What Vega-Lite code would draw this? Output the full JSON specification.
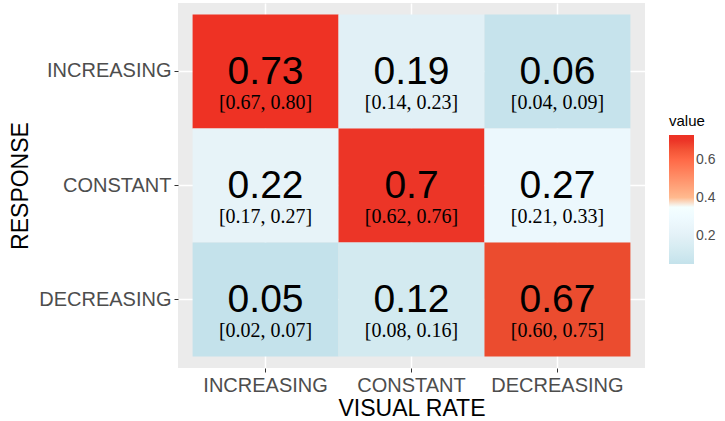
{
  "$schema": "https://vega.github.io/schema/vega-lite/v6.json",
  "width": 467,
  "height": 365,
  "autosize": {"type": "none"},
  "padding": {"left": 178, "top": 3, "right": 80, "bottom": 53},
  "background": "white",
  "config": {
    "view": {"fill": "#EBEBEB", "stroke": null},
    "axis": {
      "domain": false,
      "grid": true,
      "zindex": 0,
      "gridColor": "#FFFFFF",
      "gridWidth": 1.5,
      "tickColor": "#333333",
      "tickSize": 4,
      "tickWidth": 1,
      "labelFont": "Liberation Sans",
      "labelFontSize": 20,
      "labelColor": "#4D4D4D",
      "labelPadding": 3,
      "titleFont": "Liberation Sans",
      "titleFontSize": 23,
      "titleFontWeight": "normal",
      "titleColor": "#000000"
    },
    "legend": {
      "orient": "none",
      "legendX": 491,
      "legendY": 111,
      "gradientLength": 129,
      "gradientThickness": 25,
      "gradientStrokeWidth": 0,
      "titleFont": "Liberation Sans",
      "titleFontSize": 15,
      "titleFontWeight": "normal",
      "titleColor": "#000000",
      "titlePadding": 6,
      "labelFont": "Liberation Sans",
      "labelFontSize": 14,
      "labelColor": "#4D4D4D",
      "labelOffset": 9
    }
  },
  "data": {
    "values": [
      {"visual": "INCREASING", "response": "INCREASING", "value": 0.73, "label": "0.73", "ci": "[0.67, 0.80]"},
      {"visual": "CONSTANT", "response": "INCREASING", "value": 0.19, "label": "0.19", "ci": "[0.14, 0.23]"},
      {"visual": "DECREASING", "response": "INCREASING", "value": 0.06, "label": "0.06", "ci": "[0.04, 0.09]"},
      {"visual": "INCREASING", "response": "CONSTANT", "value": 0.22, "label": "0.22", "ci": "[0.17, 0.27]"},
      {"visual": "CONSTANT", "response": "CONSTANT", "value": 0.70, "label": "0.7", "ci": "[0.62, 0.76]"},
      {"visual": "DECREASING", "response": "CONSTANT", "value": 0.27, "label": "0.27", "ci": "[0.21, 0.33]"},
      {"visual": "INCREASING", "response": "DECREASING", "value": 0.05, "label": "0.05", "ci": "[0.02, 0.07]"},
      {"visual": "CONSTANT", "response": "DECREASING", "value": 0.12, "label": "0.12", "ci": "[0.08, 0.16]"},
      {"visual": "DECREASING", "response": "DECREASING", "value": 0.67, "label": "0.67", "ci": "[0.60, 0.75]"}
    ]
  },
  "encoding": {
    "x": {
      "field": "visual",
      "type": "nominal",
      "sort": ["INCREASING", "CONSTANT", "DECREASING"],
      "scale": {"paddingInner": 0, "paddingOuter": 0.1},
      "axis": {"title": "VISUAL RATE", "labelAngle": 0, "bandPosition": 0.5, "titlePadding": 2, "zindex": 0}
    },
    "y": {
      "field": "response",
      "type": "nominal",
      "sort": ["INCREASING", "CONSTANT", "DECREASING"],
      "scale": {"paddingInner": 0, "paddingOuter": 0.1},
      "axis": {"title": "RESPONSE", "bandPosition": 0.5, "titlePadding": 6, "zindex": 0}
    }
  },
  "layer": [
    {
      "mark": {"type": "rect"},
      "encoding": {
        "color": {
          "field": "value",
          "type": "quantitative",
          "title": "value",
          "scale": {
            "type": "linear",
            "domain": [0.05, 0.12, 0.22, 0.36, 0.67, 0.70, 0.73],
            "range": ["#C4E2EB", "#D3EAF0", "#E7F3F8", "#FFFFFF", "#EB4C2F", "#EC3527", "#EE3224"]
          },
          "legend": {"values": [0.2, 0.4, 0.6], "format": ".1f"}
        }
      }
    },
    {
      "mark": {"type": "text", "font": "Liberation Sans", "fontSize": 39, "color": "#000000", "baseline": "alphabetic", "dy": 12.5},
      "encoding": {"text": {"field": "label"}}
    },
    {
      "mark": {"type": "text", "font": "Liberation Serif", "fontSize": 20, "color": "#000000", "baseline": "alphabetic", "dy": 37.5},
      "encoding": {"text": {"field": "ci"}}
    }
  ]
}
